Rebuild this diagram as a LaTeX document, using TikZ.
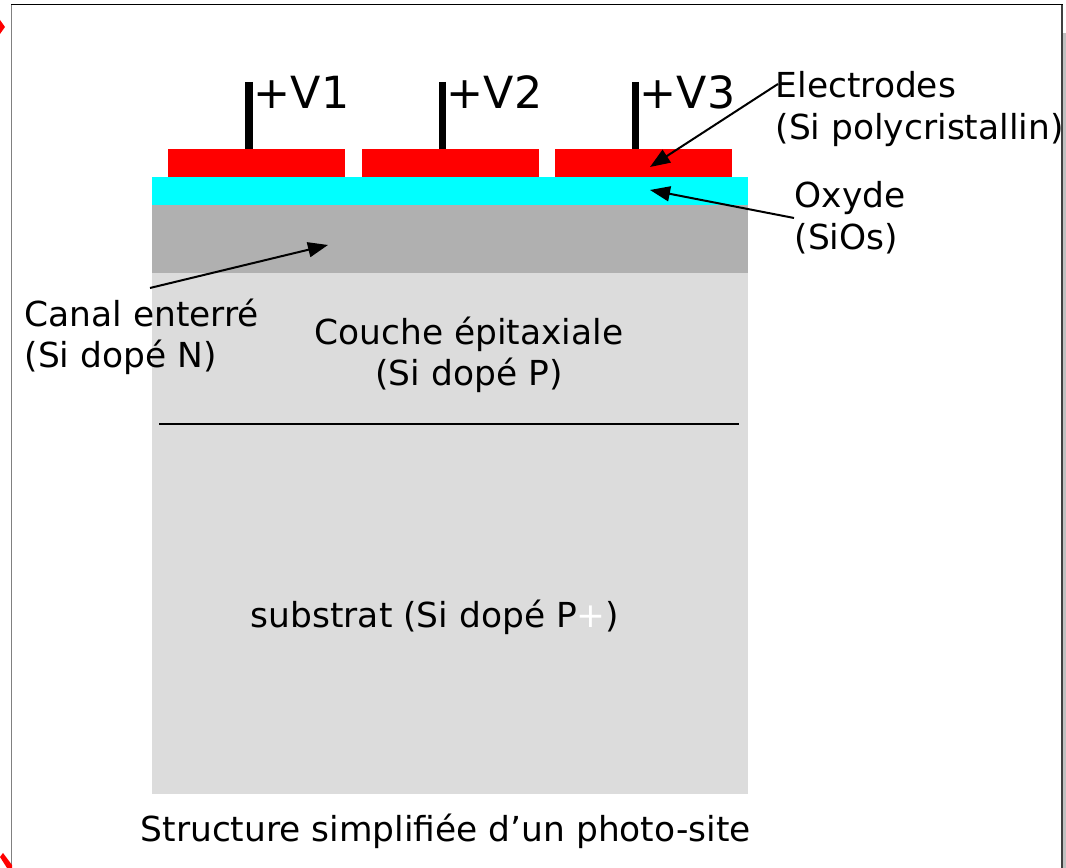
\documentclass[tikz,border=0pt]{standalone}
\usepackage{fontspec}
\setmainfont{DejaVu Sans}
\usepackage{tikz}
\usetikzlibrary{calc}
\usetikzlibrary{arrows.meta}
\definecolor{framegray}{HTML}{808080}
\definecolor{shadowgray}{HTML}{C0C0C0}
\definecolor{canalgray}{HTML}{B0B0B0}
\definecolor{substratgray}{HTML}{DCDCDC}
\definecolor{oxydecyan}{HTML}{00FFFF}
\tikzstyle{layer} = [inner sep=0pt, outer sep=0pt, anchor=north west]
\tikzstyle{electrode} = [layer, fill=red, minimum width=1.77cm, minimum height=0.28cm]
\tikzstyle{wire} = [black, line width=0.07cm]
\tikzstyle{pointer} = [black, line width=0.02cm, -{Triangle[length=0.2cm,width=0.15cm]}]
\tikzstyle{label} = [inner sep=0pt, align=left, anchor=west, font=\fontsize{9.79pt}{11.8pt}\selectfont]
\tikzstyle{biglabel} = [inner sep=0pt, anchor=west, font=\fontsize{12.6pt}{15pt}\selectfont]

\begin{document}
\begin{tikzpicture}[x=0.01cm, y=-0.01cm]
\useasboundingbox (0,0) rectangle (1066,868);

% page
\fill[shadowgray] (1063,33) rectangle (1066,868);
\draw[framegray, line width=0.016cm] (11.5,4.5) -- (11.5,868);
\draw[black!75, line width=0.016cm] (1062,4.5) -- (1062,868);
\draw[black, line width=0.012cm] (11,4.5) -- (1062.5,4.5);
\fill[red] (0,20) -- (5,27) -- (0,34) -- cycle;
\fill[red] (0,857) -- (3,853) -- (12,865) -- (12,868) -- (7,868) -- cycle;

% layers
\node[layer, fill=substratgray, minimum width=5.96cm, minimum height=5.21cm] (substrat) at (152,273) {};
\node[layer, fill=canalgray, minimum width=5.96cm, minimum height=0.68cm] (canal) at (152,205) {};
\node[layer, fill=oxydecyan, minimum width=5.96cm, minimum height=0.28cm] (oxyde) at (152,177) {};
\node[electrode] (e1) at (168,149) {};
\node[electrode] (e2) at (361.5,149) {};
\node[electrode] (e3) at (555,149) {};

% electrodes
\coordinate (w1) at (249,82);
\coordinate (w2) at (442,82);
\coordinate (w3) at (635.5,82);
\draw[wire] (w1) -- (w1 |- e1.north);
\draw[wire] (w2) -- (w2 |- e2.north);
\draw[wire] (w3) -- (w3 |- e3.north);

\node[biglabel] (v1) at (253,92) {+V1};
\node[biglabel] (v2) at (446,92) {+V2};
\node[biglabel] (v3) at (639,92) {+V3};

% labels
\node[label] (electrodes) at (775,109) {Electrodes\\(Si polycristallin)};
\node[label] (oxydetxt) at (794,217.5) {Oxyde\\(SiOs)};
\node[label] (canaltxt) at (24,337) {Canal enterré\\(Si dopé N)};
\node[label, align=center, anchor=center] (couche) at (469,355) {Couche épitaxiale\\(Si dopé P)};
\node[label] (substrattxt) at (250,617) {substrat (Si dopé P\textcolor{white}{+})};
\node[label] (titre) at (140,831) {Structure simplifiée d’un photo-site};

% pointers
\coordinate (p1) at (778,84);
\coordinate (p2) at (650,167);
\coordinate (p3) at (794,218);
\coordinate (p4) at (650,190);
\coordinate (p5) at (150,288);
\coordinate (p6) at (328,245);
\draw[pointer] (p1) to (p2);
\draw[pointer] (p3) to (p4);
\draw[pointer] (p5) to (p6);

% junction
\coordinate (j1) at (159,424);
\coordinate (j2) at (739,424);
\draw[black, line width=0.02cm] (j1) to (j2);

\end{tikzpicture}
\end{document}
